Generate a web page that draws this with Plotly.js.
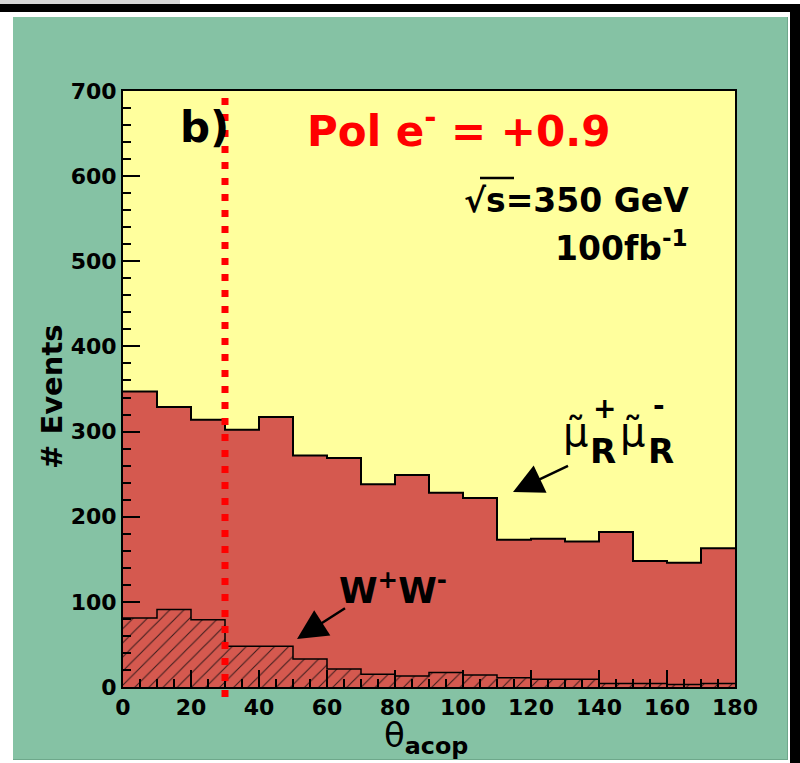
<!DOCTYPE html>
<html><head><meta charset="utf-8">
<script src="https://cdn.plot.ly/plotly-3.0.1.min.js"></script>
<style>
html,body{margin:0;padding:0;background:#fff;width:800px;height:763px;overflow:hidden;}
#grey{position:absolute;left:0;top:0;width:180px;height:4px;background:#d6d6d6;}
#topbar{position:absolute;left:0;top:4px;width:800px;height:8px;background:#000;}
#rightbar{position:absolute;left:790px;top:4px;width:10px;height:759px;background:#000;}
#panel{position:absolute;left:13px;top:17px;width:775px;height:743px;background:#85c2a4;border-bottom:1px solid #6ea88b;border-right:1px solid #6ea88b;box-sizing:border-box;}
#chart{position:absolute;left:0;top:0;width:800px;height:763px;}
</style></head><body>
<div id="grey"></div><div id="topbar"></div><div id="rightbar"></div><div id="panel"></div>
<div id="chart"></div>
<script>
// ---- data ----
const thetaBinEdgesLow = [0,10,20,30,40,50,60,70,80,90,100,110,120,130,140,150,160,170];
const binWidth = 10;
const totalEvents = [347,329,314,302,317,272,269,238,249,228,222,173,174,171,182,148,146,163];
const wwEvents    = [81,91,79,48,48,33,21,15,13,17,14,11,9,9,4,4,3,4];
const xTickVals = [0,20,40,60,80,100,120,140,160,180];
const yTickVals = [0,100,200,300,400,500,600,700];
const cutValue = 30;

// ---- build step series ----
const stepX = thetaBinEdgesLow.concat([thetaBinEdgesLow[thetaBinEdgesLow.length-1] + binWidth]);
const stepTotal = totalEvents.concat([totalEvents[totalEvents.length-1]]);
const stepWW = wwEvents.concat([wwEvents[wwEvents.length-1]]);

const RED = '#d5594f';
const FONT = 'DejaVu Sans';
// pixel -> paper helpers (plot area 123..735 x 91..687)
const L=123, R=735, T=91, B=687;
const px = v => (v-L)/(R-L);
const py = v => (B-v)/(B-T);

function txt(text, x, y, size, opts){
  return Object.assign({text:text, xref:'paper', yref:'paper', x:px(x), y:py(y),
    xanchor:'center', yanchor:'middle', showarrow:false,
    font:{family:FONT, size:size, color:'#000', weight:'bold'}}, opts||{});
}
function arrow(tipX, tipY, tailX, tailY){
  return {text:' ', xref:'paper', yref:'paper', x:px(tipX), y:py(tipY),
    ax:tailX-tipX, ay:tailY-tipY, showarrow:true, arrowhead:2, arrowsize:2.4,
    arrowwidth:2.5, arrowcolor:'#000', standoff:0, font:{size:2}};
}

const traces = [
  {type:'scatter', x:stepX, y:stepTotal, mode:'lines', line:{shape:'hv', color:'#000', width:2},
   fill:'tozeroy', fillcolor:RED, hoverinfo:'skip'},
  {type:'scatter', x:stepX, y:stepWW, mode:'lines', line:{shape:'hv', color:'#000', width:1.5},
   fill:'tozeroy', fillcolor:RED,
   fillpattern:{shape:'/', fgcolor:'#3a1c1c', bgcolor:RED, size:10, solidity:0.1}, hoverinfo:'skip'}
];

const axisCommon = {
  ticks:'inside', ticklen:17, tickwidth:2, tickcolor:'#000',
  showline:true, linewidth:2, linecolor:'#000', mirror:true,
  showgrid:false, zeroline:false, tickmode:'array',
  tickfont:{family:FONT, size:22, color:'#000', weight:'bold'}
};

const layout = {
  width:800, height:763,
  margin:{l:L, r:800-R, t:T, b:763-B, pad:0},
  paper_bgcolor:'rgba(0,0,0,0)', plot_bgcolor:'#ffff9d',
  showlegend:false,
  xaxis:Object.assign({}, axisCommon, {range:[0,180], tickvals:xTickVals, ticktext:xTickVals.map(String),
    minor:{dtick:5, tick0:0, ticks:'inside', ticklen:8, tickwidth:2, tickcolor:'#000', showgrid:false}}),
  yaxis:Object.assign({}, axisCommon, {range:[0,700], tickvals:yTickVals, ticktext:yTickVals.map(String),
    minor:{dtick:20, tick0:0, ticks:'inside', ticklen:8, tickwidth:2, tickcolor:'#000', showgrid:false}}),
  shapes:[
    {type:'line', xref:'x', yref:'paper', x0:cutValue, x1:cutValue, y0:py(697), y1:py(98),
     line:{color:'#ff0000', width:7, dash:'7px,9px'}, layer:'above'},
    {type:'line', xref:'paper', yref:'paper', x0:px(480), x1:px(514), y0:py(178), y1:py(178),
     line:{color:'#000', width:2.5}, layer:'above'}
  ],
  annotations:[
    txt('b)', 178, 127, 42, {xanchor:'left'}),
    txt('Pol e<sup>-</sup> = +0.9', 305, 128, 42, {xanchor:'left', font:{family:FONT, size:42, color:'#ff0000', weight:'bold'}}),
    txt('√s=350 GeV', 462, 200, 33, {xanchor:'left'}),
    txt('100fb<sup>-1</sup>', 553, 246, 33, {xanchor:'left'}),
    // slepton label
    txt('\u03bc\u0303', 575, 432, 40, {font:{family:FONT, size:40, color:'#000'}}),
    txt('+', 604, 408, 28),
    txt('R', 603, 451, 34),
    txt('\u03bc\u0303', 632, 432, 40, {font:{family:FONT, size:40, color:'#000'}}),
    txt('-', 659, 405, 28),
    txt('R', 661, 451, 34),
    txt('W<sup>+</sup>W<sup>-</sup>', 337, 588, 35, {xanchor:'left'}),
    arrow(513, 492, 570, 465),
    arrow(297, 639, 347, 607),
    txt('# Events', 52, 397, 29, {textangle:-90}),
    txt('θ<sub><b>acop</b></sub>', 426, 762, 34, {yanchor:'bottom', font:{family:FONT, size:34, color:'#000'}})
  ]
};

Plotly.newPlot('chart', traces, layout, {staticPlot:true, displayModeBar:false});
</script></body></html>
